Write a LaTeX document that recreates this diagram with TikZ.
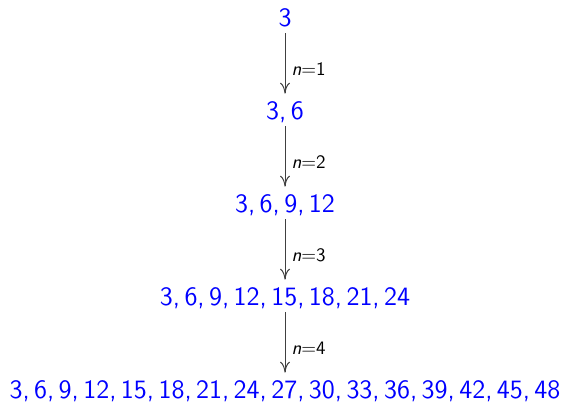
\documentclass[tikz,border=0pt]{standalone}
\usetikzlibrary{arrows.meta}
\begin{document}
\begin{tikzpicture}[x=0.5pt,y=-0.5pt,
  row/.style={anchor=base,text=blue,font=\sffamily\fontsize{13.25pt}{15pt}\selectfont,
    text height=9pt,text depth=2.5pt,inner xsep=0pt,inner ysep=1pt},
  conn/.style={draw=black!75,line width=0.5pt,-{Computer Modern Rightarrow[length=5.5pt,width=5pt]},shorten >=2.5pt},
  lab/.style={right,pos=0.55,inner xsep=3pt,font=\sffamily\fontsize{9.5pt}{11pt}\selectfont}]
\useasboundingbox (0,0) rectangle (563,403);
\node[row] (r1) at (285,26) {3};
\node[row] (r2) at (285,119) {3,\,6};
\node[row] (r3) at (285,212) {3,\,6,\,9,\,12};
\node[row] (r4) at (285,305) {3,\,6,\,9,\,12,\,15,\,18,\,21,\,24};
\node[row] (r5) at (285,398) {3,\,6,\,9,\,12,\,15,\,18,\,21,\,24,\,27,\,30,\,33,\,36,\,39,\,42,\,45,\,48};
\draw[conn] (r1.south) -- node[lab] (l1) {\textit{n}=1} (r2.north);
\draw[conn] (r2.south) -- node[lab] (l2) {\textit{n}=2} (r3.north);
\draw[conn] (r3.south) -- node[lab] (l3) {\textit{n}=3} (r4.north);
\draw[conn] (r4.south) -- node[lab] (l4) {\textit{n}=4} (r5.north);
\end{tikzpicture}
\end{document}
